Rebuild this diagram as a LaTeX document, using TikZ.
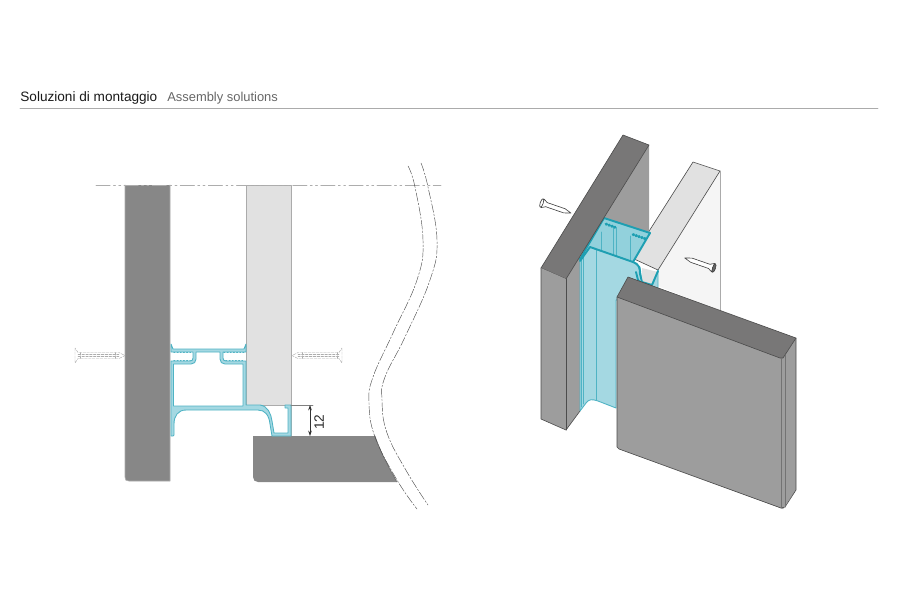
\documentclass[tikz,border=0pt]{standalone}
\usepackage{fontspec}
\setmainfont{Liberation Sans}
\usetikzlibrary{arrows.meta}
\definecolor{wallgray}{HTML}{878787}
\definecolor{panelgray}{HTML}{E1E1E1}
\definecolor{edgegray}{HTML}{ABABAB}
\definecolor{facegray}{HTML}{9D9D9D}
\definecolor{topgray}{HTML}{787777}
\definecolor{whiteface}{HTML}{F5F5F5}
\definecolor{alucyan}{HTML}{A4D8E2}
\definecolor{alumid}{HTML}{92D1DC}
\definecolor{aluline}{HTML}{4FB3C4}
\definecolor{aludark}{HTML}{1E9FB2}
\tikzset{
	isoedge/.style={draw=black!70,line width=.35pt},
	axisline/.style={draw=black!32,line width=.5pt,dash pattern=on 8pt off 2pt on 1pt off 2pt on 1pt off 2pt},
	waveline/.style={draw=black!70,line width=.25pt,dash pattern=on 5pt off 1pt on 1pt off 1pt},
	screwhidden/.style={draw=black!32,line width=.25pt,dash pattern=on 1.5pt off .7pt},
	screwsolid/.style={draw=black!75,fill=white,line width=.35pt},
	profline/.style={draw=aluline,line width=.5pt},
	profthick/.style={draw=aludark,line width=1.1pt},
	profthin/.style={draw=aluline,line width=.4pt}
}
\begin{document}
\begin{tikzpicture}[x=.02cm,y=-.02cm,>={Stealth[length=3pt,width=2pt]},line join=round,line cap=round]
	\useasboundingbox (0,0) rectangle (900,600);
	\node[anchor=base west,inner sep=0pt,font=\fontsize{7.75}{9}\selectfont,text=black!90] (titleit) at (20,101) {Soluzioni di montaggio};
	\node[anchor=base west,inner sep=0pt,font=\fontsize{7.35}{9}\selectfont,text=black!60] (titleen) at (167,101) {Assembly solutions};
	\draw[edgegray,line width=.5pt] (20,108) -- (878,108);
	\path
	(96,185) coordinate (axisL)
	(441,185) coordinate (axisR)
	(291,405) coordinate (extT)
	(313,405) coordinate (extE)
	(310,405) coordinate (dimT)
	(310,436) coordinate (dimB)
	;
	\fill[wallgray] (125,185) -- (170,185) -- (170,481) -- (129,481) .. controls (126,481) and (125,480) .. (125,477) -- cycle;
	\draw[edgegray,line width=.4pt] (125,185) -- (125,477) .. controls (125,480) and (126,481) .. (129,481) -- (170,481) -- (170,185);
	\fill[panelgray] (246,185) rectangle (291,405);
	\draw[edgegray,line width=.4pt] (246,405) -- (246,185) -- (291,185) -- (291,436);
	\draw[edgegray,line width=.4pt] (246,405) -- (extT);
	\fill[wallgray] (253,436) -- (375,436) .. controls (381,453) and (388,466) .. (397,482) -- (258,482) .. controls (255,482) and (253,480) .. (253,477) -- cycle;
	\draw[black!60,line width=.3pt] (375,436) .. controls (381,453) and (388,466) .. (397,482);
	\draw[axisline] (axisL) -- (axisR);
	\draw[waveline] plot [smooth,tension=.7] coordinates {(408,166) (415,187) (423,240) (417,280) (393,333) (373,377) (369,403) (375,437) (397,480) (417,509)};
	\draw[waveline] plot [smooth,tension=.7] coordinates {(421,163) (428,187) (437,240) (430,280) (405,337) (385,377) (382,400) (387,433) (407,472) (428,505)};
	\draw[profline,fill=alucyan,even odd rule]
	(171,344) -- (173,349) -- (244,349) -- (246,344) -- (246,352) -- (223,352) -- (223,358) .. controls (223,360) and (224,361) .. (226,361) -- (246,361) -- (246,405) -- (260,405) .. controls (268,406) and (271,414) .. (272,421) -- (274,433) -- (288,433) -- (288,408) -- (285,408) -- (285,405) -- (291,405) -- (291,436) -- (272,436) -- (270,424) .. controls (269,415) and (265,410) .. (258,410) -- (186,410) .. controls (178,410) and (174,416) .. (174,424) -- (174,435) -- (173,436) -- (171,436) -- (171,361) -- (190,361) .. controls (192,361) and (193,360) .. (193,358) -- (193,352) -- (171,352) -- cycle
	(173.5,364) -- (191,364) .. controls (194,364) and (196,362) .. (196,359) -- (196,352) -- (220,352) -- (220,359) .. controls (220,362) and (222,364) .. (225,364) -- (243,364) -- (243,406) -- (173.5,406) -- cycle;
	\draw[aluline,line width=.6pt,dash pattern=on .5pt off 1.3pt] (174,352.5) -- (192,352.5);
	\draw[aluline,line width=.6pt,dash pattern=on .5pt off 1.3pt] (224,352.5) -- (244,352.5);
	\draw[aluline,line width=.6pt,dash pattern=on .5pt off 1.3pt] (174,360.5) -- (190,360.5);
	\draw[aluline,line width=.6pt,dash pattern=on .5pt off 1.3pt] (226,360.5) -- (244,360.5);
	\foreach \sx/\sc in {75/1,342/-1}{
		\begin{scope}[shift={(\sx,355.5)},xscale=\sc]
			\draw[screwhidden] (0,-7.5) -- (0,7.5) -- (3,3) -- (44,3) -- (50,0) -- (44,-3) -- (3,-3) -- cycle;
			\draw[screwhidden] (3,-1) -- (44,-1) (3,1) -- (44,1) (5,-3) -- (5,3) (40,-3) -- (40,3);
		\end{scope}
	}
	\draw[black!50,line width=.4pt] (extT) -- (extE);
	\draw[<->,black!80,line width=.35pt] (dimT) -- (dimB);
	\node[rotate=90,inner sep=0pt,font=\fontsize{7.75}{9}\selectfont,text=black!85] (dimlabel) at (319,422) {12};
	\fill[panelgray] (693,162) -- (720,171) -- (658,270) -- (632,258) -- cycle;
	\fill[whiteface] (720,171) -- (720,311) -- (658,286) -- (658,270) -- cycle;
	\draw[isoedge] (632,258) -- (693,162) -- (720,171) -- (658,270) -- cycle;
	\draw[edgegray,line width=.5pt] (720,171) -- (720,311);
	\fill[facegray] (649,145) -- (649,234) -- (604,218) -- (580,252) -- (580,411) -- (566,430) -- (566,279) -- cycle;
	\fill[alumid] (604,218) -- (650,233) -- (633,262) -- (590,247) -- (580,261) -- cycle;
	\draw[profline,fill=alucyan] (580,261) -- (590,247) -- (633,262) -- (640,267) -- (642,282) -- (652,285) -- (658,270) -- (658,290) -- (616,300) -- (616,408) -- (598,401) .. controls (592,399) and (589,399) .. (586,403) -- (580,411) -- cycle;
	\fill[panelgray] (642,268) -- (658,272) -- (652,285) -- (642,282) -- cycle;
	\draw[profthin] (596,250) -- (596,400) (581.5,258) -- (581.5,407) (583.5,254) -- (583.5,404);
	\draw[profthin] (601,232) -- (601,250) (613,226) -- (613,255) (616,228) -- (616,256) (630,236) -- (630,261);
	\draw[profthick] (604,218) -- (650,233);
	\draw[profthick] (604,218) -- (580,259);
	\draw[profthick] (580,261) -- (590,247) -- (633,262) .. controls (639,264) and (640,268) .. (640,274) -- (642,282) -- (652,285) -- (658,271);
	\draw[profthick] (650,233) -- (633,262);
	\draw[profthick] (636,272) -- (638,280) -- (642,284);
	\draw[aludark,line width=1.6pt,dash pattern=on .5pt off 1.2pt] (606,224) -- (617,228);
	\draw[aludark,line width=1.6pt,dash pattern=on .5pt off 1.2pt] (633,234.5) -- (646,239);
	\fill[topgray] (623,135) -- (649,145) -- (566,279) -- (541,268) -- cycle;
	\draw[isoedge] (623,135) -- (649,145) -- (566,279) -- (541,268) -- cycle;
	\fill[facegray] (541,268) -- (566,279) -- (566,430) -- (541,419) -- cycle;
	\draw[isoedge] (541,268) -- (541,419) -- (566,430) -- (580,411);
	\draw[isoedge] (566,279) -- (566,430);
	\begin{scope}[shift={(541.7,203)},rotate=-19]
		\draw[screwsolid] (1,-4.5) -- (5,-2.2) -- (24,-2.2) -- (31,0) -- (24,2.2) -- (5,2.2) -- (1,4.5) -- cycle;
		\draw[screwsolid] (0,0) ellipse [x radius=1.5,y radius=4.5];
	\end{scope}
	\begin{scope}[shift={(714,268)},rotate=161]
		\draw[screwsolid] (1,-4.5) -- (5,-2.2) -- (24,-2.2) -- (31,0) -- (24,2.2) -- (5,2.2) -- (1,4.5) -- cycle;
		\draw[screwsolid,fill=black!60] (0,0) ellipse [x radius=1.5,y radius=4.5];
	\end{scope}
	\fill[facegray] (617,297) -- (783,358) -- (783,509) -- (619,449) -- (617,447) -- cycle;
	\fill[facegray] (783,358) -- (796,338) -- (796,490) -- (783,509) -- cycle;
	\fill[topgray] (628,277) -- (796,338) -- (783,358) -- (780,358) -- (617,297) -- cycle;
	\draw[isoedge] (628,277) -- (796,338) -- (796,490) -- (785,507) -- (781,508) -- (619,449) -- (617,447) -- (617,297) -- cycle;
	\draw[isoedge] (617,297) -- (780,358) -- (783,358) -- (796,338);
	\draw[black!55,line width=.3pt] (781,358) -- (781,508);
	\draw[black!55,line width=.3pt] (785,355) -- (785,507);
\end{tikzpicture}
\end{document}
